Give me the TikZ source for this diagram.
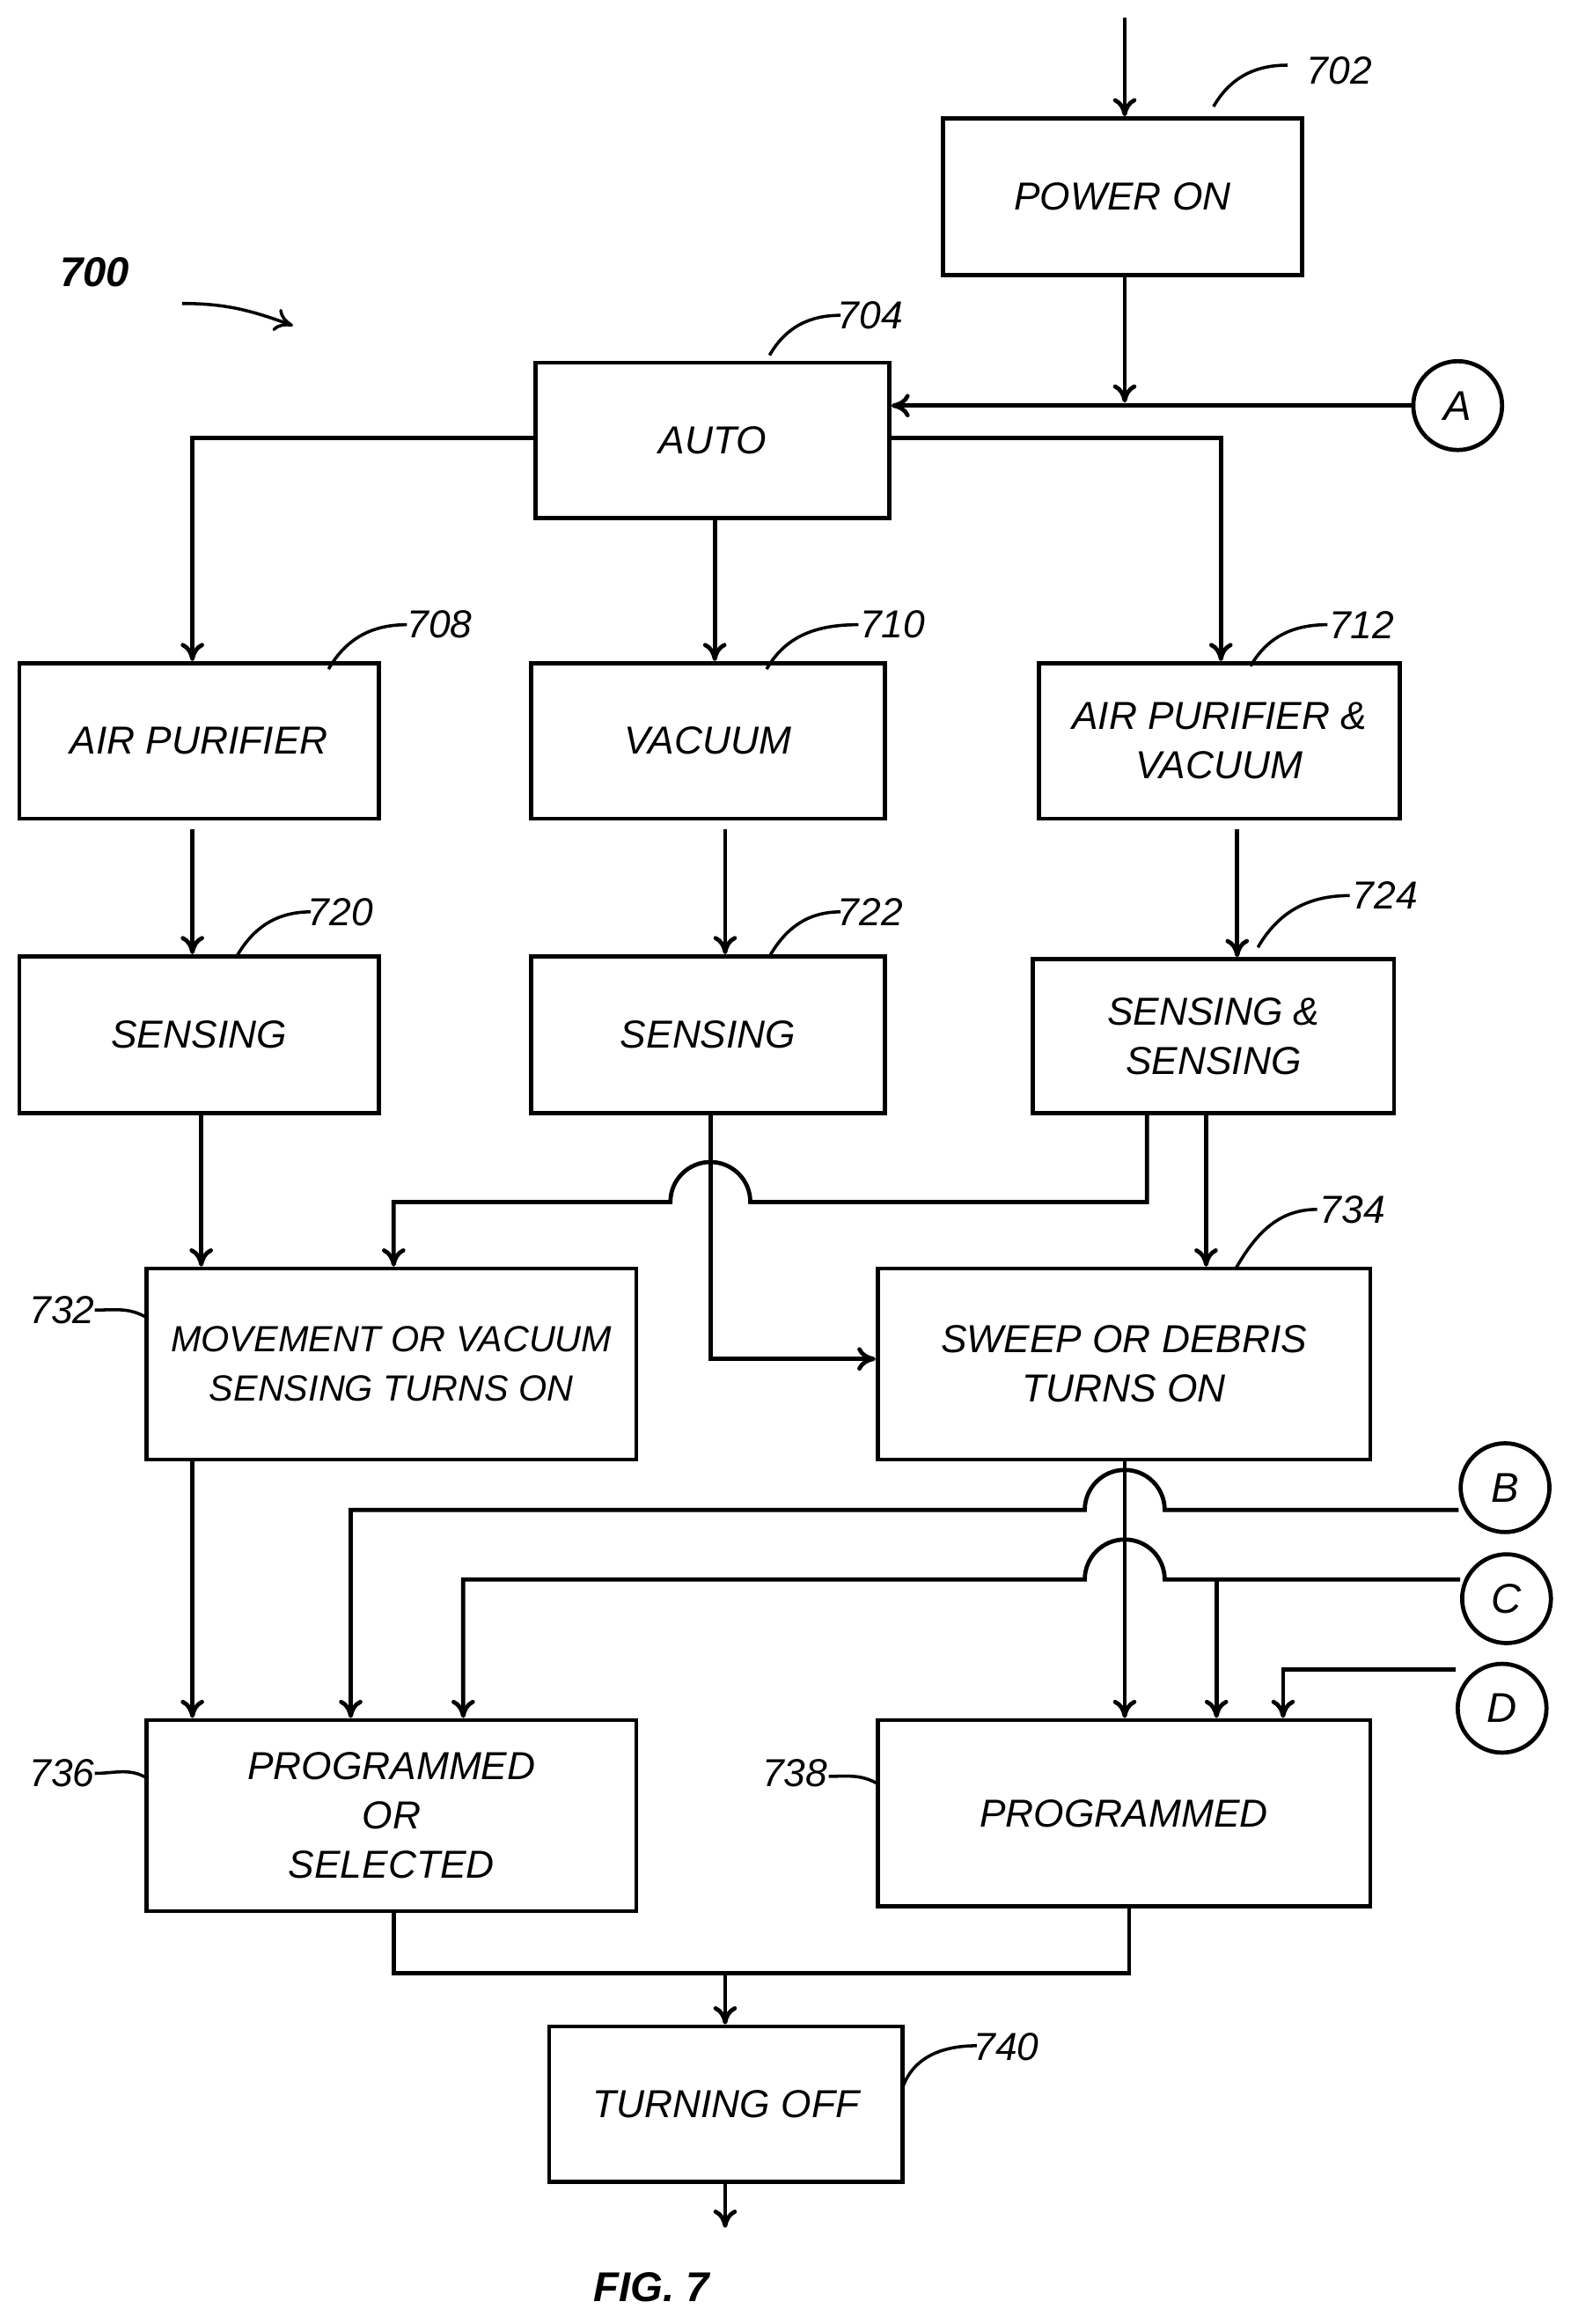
\documentclass[tikz,border=0pt]{standalone}
\usepackage{fontspec}
\setmainfont{Liberation Sans}
\usetikzlibrary{arrows.meta}
\begin{document}
\begin{tikzpicture}[x=0.02cm,y=-0.02cm,line width=1.6pt,>={To[length=7pt,width=9pt]},
  box/.style={draw,align=center,inner sep=2pt,font=\fontsize{15}{19}\selectfont\itshape},
  ref/.style={font=\fontsize{15}{18}\selectfont\itshape},
  letter/.style={draw,circle,minimum size=1.2cm,font=\fontsize{16}{18}\selectfont\itshape},
  lead/.style={line width=1.2pt}]
\useasboundingbox (0,0) rectangle (1066,1570);
% boxes
\node[box,minimum width=4.86cm,minimum height=2.12cm] (n702) at (758.5,133) {POWER ON};
\node[box,minimum width=4.78cm,minimum height=2.1cm] (n704) at (481.5,297.5) {AUTO};
\node[box,minimum width=4.86cm,minimum height=2.1cm] (n708) at (134.5,500.5) {AIR PURIFIER};
\node[box,minimum width=4.78cm,minimum height=2.1cm] (n710) at (478.5,500.5) {VACUUM};
\node[box,minimum width=4.88cm,minimum height=2.1cm] (n712) at (824,500.5) {AIR PURIFIER \&\\VACUUM};
\node[box,minimum width=4.86cm,minimum height=2.12cm] (n720) at (134.5,699) {SENSING};
\node[box,minimum width=4.78cm,minimum height=2.12cm] (n722) at (478.5,699) {SENSING};
\node[box,minimum width=4.88cm,minimum height=2.08cm] (n724) at (820,700) {SENSING \&\\SENSING};
\node[box,minimum width=6.62cm,minimum height=2.58cm,font=\fontsize{14}{19}\selectfont\itshape] (n732) at (264.5,921.5) {MOVEMENT OR VACUUM\\SENSING TURNS ON};
\node[box,minimum width=6.66cm,minimum height=2.58cm] (n734) at (759.5,921.5) {SWEEP OR DEBRIS\\TURNS ON};
\node[box,minimum width=6.62cm,minimum height=2.58cm] (n736) at (264.5,1226.5) {PROGRAMMED\\OR\\SELECTED};
\node[box,minimum width=6.66cm,minimum height=2.52cm] (n738) at (759.5,1225) {PROGRAMMED};
\node[box,minimum width=4.78cm,minimum height=2.1cm] (n740) at (490.5,1421.5) {TURNING OFF};
% connectors
\node[letter] (cA) at (985,274) {A};
\node[letter] (cB) at (1017,1005) {B};
\node[letter] (cC) at (1018,1080) {C};
\node[letter] (cD) at (1015,1154) {D};
\coordinate (top) at (760,12);
\coordinate (bot) at (490,1505);
\draw[->] (top) -- (n702.north -| top);
\draw[->] (n702.south -| top) -- (760,272);
\draw[->] (cA.west) -- (n704.east |- cA.west);
\draw[->] (n704.west |- 0,296) -| (n708.north -| 130,0);
\draw[->] (n704.south -| 483,0) -- (n710.north -| 483,0);
\draw[->] (n704.east |- 0,296) -| (n712.north -| 825,0);
\draw[->] (130,560) -- (n720.north -| 130,0);
\draw[->] (490,560) -- (n722.north -| 490,0);
\draw[->] (836,560) -- (n724.north -| 836,0);
\draw[->] (n720.south -| 136,0) -- (n732.north -| 136,0);
\draw[->] (n722.south -| 480,0) |- (n734.west |- 0,918);
\draw[->] (n724.south -| 775,0) |- (507,812) arc[start angle=0,end angle=-180,radius=27] -| (n732.north -| 266,0);
\draw[->] (n724.south -| 815,0) -- (n734.north -| 815,0);
\draw[->] (n732.south -| 130,0) -- (n736.north -| 130,0);
\draw[->] (n734.south -| 760,0) -- (n738.north -| 760,0);
\draw[->] (cB.west |- 0,1020) -- (787,1020) arc[start angle=0,end angle=-180,radius=27] -| (n736.north -| 237,0);
\draw[->] (cC.west |- 0,1067) -- (787,1067) arc[start angle=0,end angle=-180,radius=27] -| (n736.north -| 313,0);
\draw[->] (822,1067) -- (n738.north -| 822,0);
\draw[->] (cD.west |- 0,1128) -| (n738.north -| 867,0);
\draw (n736.south -| 266,0) |- (763,1333) -- (n738.south -| 763,0);
\draw[->] (490,1333) -- (n740.north -| 490,0);
\draw[->] (n740.south -| bot) -- (bot);
% reference numbers
\draw[lead] (820,72) to[out=60,in=180] (870,44); \node[ref] (r702) at (905,48) {702};
\draw[lead] (520,240) to[out=60,in=180] (568,213); \node[ref] (r704) at (588,213) {704};
\draw[lead] (222,452) to[out=60,in=180] (275,422); \node[ref] (r708) at (297,422) {708};
\draw[lead] (518,452) to[out=60,in=180] (580,422); \node[ref] (r710) at (603,422) {710};
\draw[lead] (845,450) to[out=60,in=180] (897,422); \node[ref] (r712) at (920,422) {712};
\draw[lead] (160,646) to[out=60,in=180] (210,616); \node[ref] (r720) at (230,616) {720};
\draw[lead] (520,646) to[out=60,in=180] (568,616); \node[ref] (r722) at (588,616) {722};
\draw[lead] (850,640) to[out=60,in=180] (912,605); \node[ref] (r724) at (936,605) {724};
\draw[lead] (835,857) to[out=60,in=180] (890,817); \node[ref] (r734) at (914,817) {734};
\draw[lead] (64,885) to[out=0,in=150] (99,890); \node[ref] (r732) at (42,885) {732};
\draw[lead] (64,1198) to[out=0,in=150] (99,1201); \node[ref] (r736) at (42,1198) {736};
\draw[lead] (560,1200) to[out=0,in=150] (593,1205); \node[ref] (r738) at (537,1198) {738};
\draw[lead] (610,1410) to[out=70,in=180] (660,1382); \node[ref] (r740) at (680,1383) {740};
\node[ref,font=\fontsize{16}{18}\selectfont\bfseries\itshape] (r700) at (64,184) {700};
\draw[lead,->] (123,205) to[out=0,in=160] (198,220);
\node[font=\fontsize{16}{18}\selectfont\bfseries\itshape] (fig) at (440,1545) {FIG. 7};
\end{tikzpicture}
\end{document}
